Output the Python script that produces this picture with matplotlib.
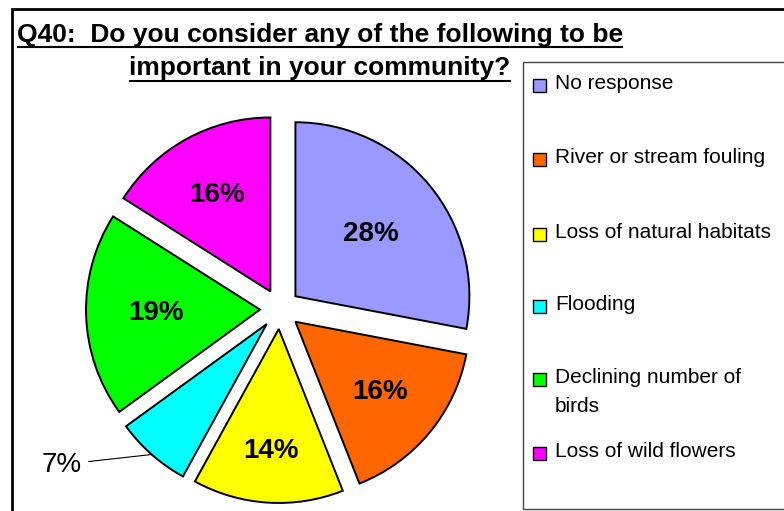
import numpy as np
import matplotlib
matplotlib.use("Agg")
import matplotlib.pyplot as plt
from matplotlib.patches import Rectangle

plt.rcParams['font.family'] = ['Liberation Sans', 'DejaVu Sans']

# data
categories = ["No response", "River or stream fouling", "Loss of natural habitats",
              "Flooding", "Declining number of\nbirds", "Loss of wild flowers"]
values = [28, 16, 14, 7, 19, 16]
colors = ["#9999FF", "#FF6600", "#FFFF00", "#00FFFF", "#00FF00", "#FF00FF"]
title_lines = ["Q40:  Do you consider any of the following to be",
               "important in your community?"]

W, H = 784, 511
fig = plt.figure(figsize=(W / 100, H / 100), dpi=100)
ax = fig.add_axes([0, 0, 1, 1])

# pie in pixel units (y measured from bottom); explode is in data units here
cx, cy, r = 280, H - 309, 174
wedges, _ = ax.pie(values, colors=colors, startangle=90, counterclock=False,
                   center=(cx, cy), radius=r, explode=[20] * len(values),
                   wedgeprops=dict(edgecolor="black", linewidth=1.4))
ax.set_xlim(0, W)
ax.set_ylim(0, H)
ax.set_aspect("equal")
ax.axis("off")

# percentage labels
lbl_dist = [0.56, 0.63, 0.70, None, 0.60, 0.63]
for w, v, d in zip(wedges, values, lbl_dist):
    mid = np.deg2rad((w.theta1 + w.theta2) / 2)
    wx, wy = w.center
    if d is not None:
        ax.text(wx + d * r * np.cos(mid), wy + d * r * np.sin(mid), f"{v}%",
                ha="center", va="center", fontsize=20, fontweight="bold")
    else:
        px, py = wx + r * np.cos(mid), wy + r * np.sin(mid)
        ax.annotate(f"{v}%", xy=(px, py), xytext=(-90, -10), textcoords="offset pixels",
                    ha="center", va="center", fontsize=20,
                    arrowprops=dict(arrowstyle="-", color="black", lw=0.8,
                                    shrinkA=3, shrinkB=0))

# title with underline
fig.canvas.draw()
renderer = fig.canvas.get_renderer()
for line, base, ul in zip(title_lines, [42, 75], [47, 81]):
    t = ax.text(320, H - base, line, ha="center", va="baseline",
                fontsize=19, fontweight="bold")
    bb = t.get_window_extent(renderer=renderer)
    ax.plot([bb.x0, bb.x1], [H - ul, H - ul], color="black", lw=1.5,
            solid_capstyle="butt")

# legend box
ax.add_patch(Rectangle((523, H - 509), 300, 447, facecolor="white",
                       edgecolor="#444444", lw=1.0, clip_on=False, zorder=1))
baselines = [89, 163, 238, 310, 383, 457]
for lab, col, b in zip(categories, colors, baselines):
    ax.add_patch(Rectangle((533, H - b - 3), 13, 13, facecolor=col,
                           edgecolor="black", lw=1.0, zorder=3))
    for i, part in enumerate(lab.split("\n")):
        ax.text(555, H - b - 29 * i, part, ha="left", va="baseline",
                fontsize=15, zorder=3)

# outer frame
ax.add_patch(Rectangle((12, -10), 800, H - 9 + 10, facecolor="none",
                       edgecolor="black", lw=2.0, clip_on=False, zorder=4))

fig.savefig("out.png", dpi=100)
